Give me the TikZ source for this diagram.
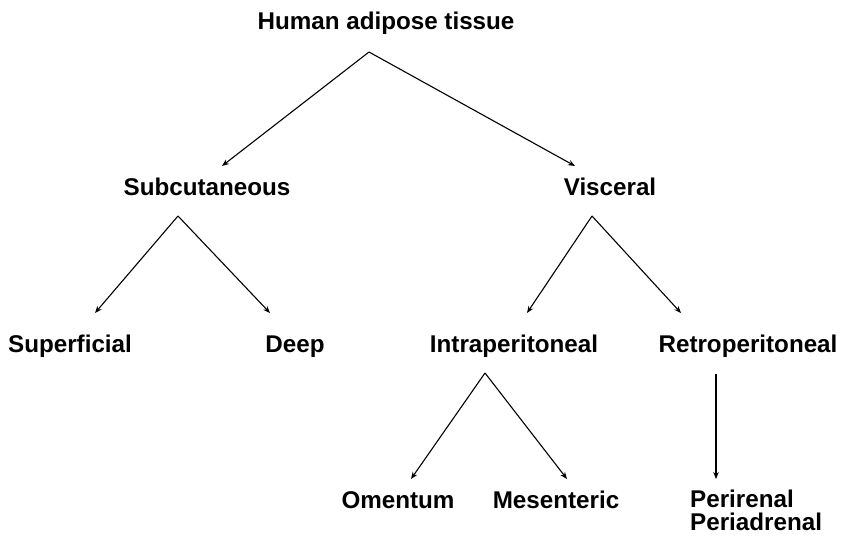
\documentclass[tikz,border=0pt]{standalone}
\usepackage{fontspec}
\setmainfont{Liberation Sans}
\usepackage{tikz}
\usetikzlibrary{arrows.meta,calc}
\tikzset{
    lbl/.style={inner sep=0pt,anchor=base,font=\fontsize{24.2}{23}\selectfont\bfseries},
    arr/.style={-{Stealth[length=7pt,width=5.5pt]},line width=1.1pt},
}
\begin{document}
\begin{tikzpicture}[x=1pt,y=-1pt]
\useasboundingbox (0,0) rectangle (842,535);
\node[lbl] (hat)   at (386,29.5) {Human adipose tissue};
\node[lbl] (sub)   at (207,195)  {Subcutaneous};
\node[lbl] (visc)  at (610,195)  {Visceral};
\node[lbl] (sup)   at (70,352)   {Superficial};
\node[lbl] (deep)  at (295,352)  {Deep};
\node[lbl] (intra) at (514,352)  {Intraperitoneal};
\node[lbl] (retro) at (748,352)  {Retroperitoneal};
\node[lbl] (oment) at (398,508)  {Omentum};
\node[lbl] (mesen) at (556,508)  {Mesenteric};
\node[lbl,anchor=base west,align=left] (peri) at (690,530) {Perirenal\\Periadrenal};
% first split
\draw[arr] ($(hat.base)+(-17,22.5)$) -- ($(sub.base)+(15,-29)$);
\draw[arr] ($(hat.base)+(-17,22.5)$) -- ($(visc.base)+(-35,-29)$);
% subcutaneous
\draw[arr] ($(sub.base)+(-29,21)$) -- ($(sup.base)+(25,-39)$);
\draw[arr] ($(sub.base)+(-29,21)$) -- ($(deep.base)+(-25,-39)$);
% visceral
\draw[arr] ($(visc.base)+(-18,21)$) -- ($(intra.base)+(13,-39)$);
\draw[arr] ($(visc.base)+(-18,21)$) -- ($(retro.base)+(-67,-39)$);
% intraperitoneal / retroperitoneal
\draw[arr] ($(intra.base)+(-29,21)$) -- ($(oment.base)+(13,-29)$);
\draw[arr] ($(intra.base)+(-29,21)$) -- ($(mesen.base)+(11,-29)$);
\draw[arr] ($(retro.base)+(-32,22)$) -- ($(peri.base west)+(26,-51)$);
\end{tikzpicture}
\end{document}
